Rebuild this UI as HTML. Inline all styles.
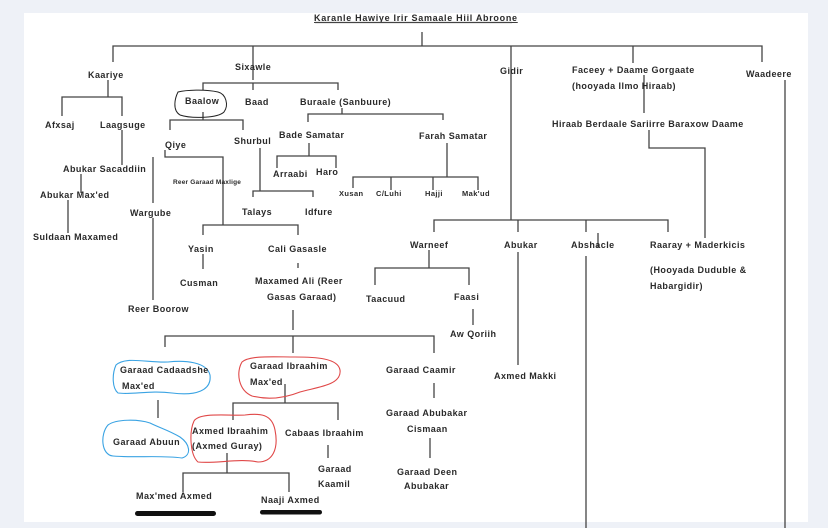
<!DOCTYPE html>
<html><head><meta charset="utf-8"><style>
html,body{margin:0;padding:0;background:#eef1f7;}
svg{display:block}
text{font-family:"Liberation Sans",sans-serif;font-size:9px;letter-spacing:0.45px;font-weight:bold;fill:#2a2a2a;}
.l{stroke:#444;stroke-width:1.3;fill:none}
</style></head><body>
<svg width="828" height="528" viewBox="0 0 828 528" xmlns="http://www.w3.org/2000/svg">
<rect x="0" y="0" width="828" height="528" fill="#eef1f7"/>
<rect x="24" y="13" width="784" height="509" fill="#fff"/>
<text x="314" y="21" text-decoration="underline" style="letter-spacing:0.7px">Karanle Hawiye Irir Samaale Hiil Abroone</text>
<line class="l" x1="315" y1="22.5" x2="512" y2="22.5" stroke-width="0.8"/>
<g class="l">
<path d="M422 32V46M113 62V46H762V62M253 46V80M511 46V220M633 46V63"/>
<path d="M108 80V97M62 116V97H122V116M122 130V165M81 174V193M68 200V233"/>
<path d="M203 90V83H338V90M253 83V90M203 112V120M170 130V120H243V130"/>
<path d="M260 148V191M253 197V191H313V197"/>
<path d="M165 150V157H223V225M153 157V203M153 218V300M203 235V225H298V235"/>
<path d="M203 254V269M298 263V268M293 310V330M165 347V336H434V353M293 336V353"/>
<path d="M158 400V418M285 384V403M233 420V403H338V420M328 445V458M227 453V473M183 492V473H289V492"/>
<path d="M342 108V114M308 122V114H443V120M309 143V156M277 168V156H336V168M447 143V177M353 188V177H478V190M391 177V190M433 177V190"/>
<path d="M434 232V220H668V232M518 220V232M586 220V232M598 233V248M429 250V268M375 285V268H469V285M473 309V325M518 252V365M586 256V528"/>
<path d="M644 75V113M649 130V148H705V238M785 80V528"/>
</g>
<text x="88" y="78">Kaariye</text>
<text x="45" y="128">Afxsaj</text>
<text x="100" y="128">Laagsuge</text>
<text x="63" y="172">Abukar Sacaddiin</text>
<text x="40" y="198">Abukar Max'ed</text>
<text x="33" y="240">Suldaan Maxamed</text>
<text x="235" y="70">Sixawle</text>
<path d="M178 92C175 98 172 110 180 115C192 119 218 118 224 112C229 105 226 94 218 92C205 89 186 90 178 92Z" fill="none" stroke="#222" stroke-width="1"/>
<text x="185" y="104">Baalow</text>
<text x="245" y="105">Baad</text>
<text x="300" y="105">Buraale (Sanbuure)</text>
<text x="165" y="148">Qiye</text>
<text x="234" y="144">Shurbul</text>
<text x="173" y="184" style="font-size:6.5px;letter-spacing:0.2px">Reer Garaad Maxlige</text>
<text x="242" y="215">Talays</text>
<text x="305" y="215">Idfure</text>
<text x="130" y="216">Wargube</text>
<text x="128" y="312">Reer Boorow</text>
<text x="188" y="252">Yasin</text>
<text x="268" y="252">Cali Gasasle</text>
<text x="180" y="286">Cusman</text>
<text x="255" y="284">Maxamed Ali (Reer</text>
<text x="267" y="300">Gasas Garaad)</text>
<path d="M116 365C112 374 112 388 118 393C132 395 150 390 172 393C195 396 212 391 210 375C207 362 185 360 168 362C148 363 126 356 116 365Z" fill="none" stroke="#3aa3e3" stroke-width="1.1"/>
<text x="120" y="373">Garaad Cadaadshe</text>
<text x="122" y="389">Max'ed</text>
<path d="M108 425C100 434 101 455 113 456C135 458 160 455 182 458C192 455 190 444 180 437C168 430 160 428 150 423C138 419 116 419 108 425Z" fill="none" stroke="#3aa3e3" stroke-width="1.1"/>
<text x="113" y="445">Garaad Abuun</text>
<path d="M242 362C236 372 238 390 252 396C268 400 285 398 300 392C318 387 342 385 340 370C338 358 315 357 295 357C275 357 250 355 242 362Z" fill="none" stroke="#e04848" stroke-width="1.1"/>
<text x="250" y="369">Garaad Ibraahim</text>
<text x="250" y="385">Max'ed</text>
<path d="M194 421C189 432 190 455 198 462C215 464 240 458 258 462C272 462 279 450 275 430C272 414 260 413 245 415C228 416 200 412 194 421Z" fill="none" stroke="#e04848" stroke-width="1.1"/>
<text x="192" y="434">Axmed Ibraahim</text>
<text x="192" y="449">(Axmed Guray)</text>
<text x="285" y="436">Cabaas Ibraahim</text>
<text x="318" y="472">Garaad</text>
<text x="318" y="487">Kaamil</text>
<text x="136" y="499">Max'med Axmed</text>
<text x="261" y="503">Naaji Axmed</text>
<rect x="135" y="511" width="81" height="5" rx="2.5" fill="#111"/>
<rect x="260" y="510" width="62" height="4.5" rx="2.2" fill="#111"/>
<text x="386" y="373">Garaad Caamir</text>
<line class="l" x1="434" y1="383" x2="434" y2="398"/>
<text x="386" y="416">Garaad Abubakar</text>
<text x="407" y="432">Cismaan</text>
<line class="l" x1="430" y1="438" x2="430" y2="458"/>
<text x="397" y="475">Garaad Deen</text>
<text x="404" y="489">Abubakar</text>
<text x="279" y="138">Bade Samatar</text>
<text x="419" y="139">Farah Samatar</text>
<text x="273" y="177">Arraabi</text>
<text x="316" y="175">Haro</text>
<text x="339" y="196" style="font-size:7.5px;letter-spacing:0.4px">Xusan</text>
<text x="376" y="196" style="font-size:7.5px;letter-spacing:0.4px">C/Luhi</text>
<text x="425" y="196" style="font-size:7.5px;letter-spacing:0.4px">Hajji</text>
<text x="462" y="196" style="font-size:7.5px;letter-spacing:0.4px">Mak'ud</text>
<text x="500" y="74">Gidir</text>
<text x="410" y="248">Warneef</text>
<text x="504" y="248">Abukar</text>
<text x="571" y="248">Abshacle</text>
<text x="650" y="248">Raaray + Maderkicis</text>
<text x="366" y="302">Taacuud</text>
<text x="454" y="300">Faasi</text>
<text x="450" y="337">Aw Qoriih</text>
<text x="494" y="379">Axmed Makki</text>
<text x="572" y="73">Faceey + Daame Gorgaate</text>
<text x="572" y="89">(hooyada Ilmo Hiraab)</text>
<text x="552" y="127">Hiraab Berdaale Sariirre Baraxow Daame</text>
<text x="650" y="273">(Hooyada Duduble &amp;</text>
<text x="650" y="289">Habargidir)</text>
<text x="746" y="77">Waadeere</text>
</svg>
</body></html>
